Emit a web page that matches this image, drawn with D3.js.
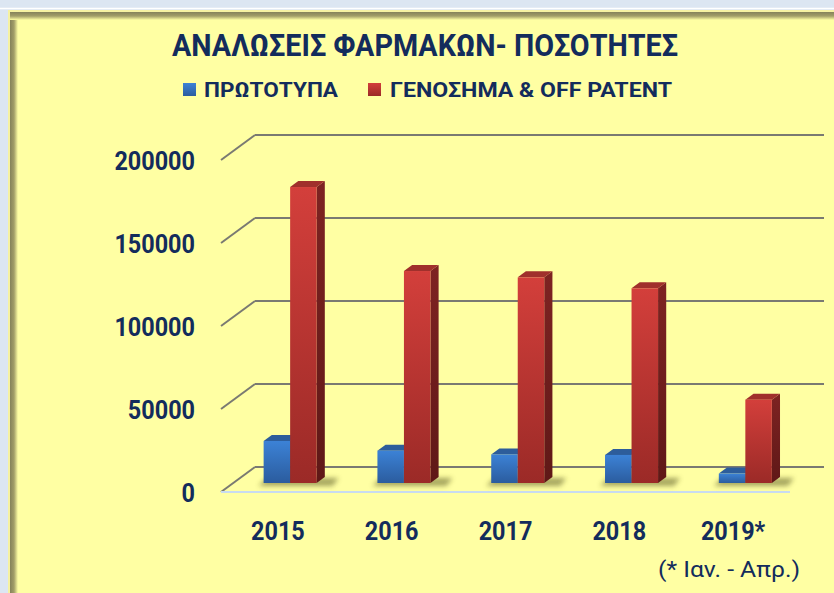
<!DOCTYPE html>
<html lang="el">
<head>
<meta charset="UTF-8">
<title>ΑΝΑΛΩΣΕΙΣ ΦΑΡΜΑΚΩΝ- ΠΟΣΟΤΗΤΕΣ</title>
<style>
  * { box-sizing: border-box; }
  body { margin: 0; background: #dce6f2; overflow: hidden; }
  text { font-family: 'Roboto', 'Noto Sans', sans-serif; }
</style>
</head>
<body>
<div id="chart"></div>
<script src="https://cdn.jsdelivr.net/npm/d3@7/dist/d3.min.js"></script>
<script>
// data
const categories = ["2015", "2016", "2017", "2018", "2019*"];
const originals = [25300, 19500, 17200, 16900, 5700];       // ΠΡΩΤΟΤΥΠΑ
const generics  = [178300, 127700, 123900, 117300, 50200];  // ΓΕΝΟΣΗΜΑ & OFF PATENT
const seriesNames = ["ΠΡΩΤΟΤΥΠΑ", "ΓΕΝΟΣΗΜΑ & OFF PATENT"];
const yTicks = [0, 50000, 100000, 150000, 200000];
const footnote = "(* Ιαν. - Απρ.)";

const W = 834, H = 593;
const navy = '#132c5c';
const depthX = 34, depthY = 25;          // floor depth (oblique)
const barF0 = 0.36, barF1 = 0.60;        // bar front / back depth fraction

const svg = d3.select('#chart').append('svg').attr('width', W).attr('height', H);
const defs = svg.append('defs');

// squeeze a text horizontally, calibri-like
function narrow(sel, f) {
  sel.each(function () {
    const w = this.getComputedTextLength();
    d3.select(this).attr('textLength', w * f).attr('lengthAdjust', 'spacingAndGlyphs');
  });
}

// excel-ish surroundings
svg.append('rect').attr('width', W).attr('height', H).attr('fill', '#dce6f2');
svg.append('line').attr('x1', 0).attr('x2', W).attr('y1', 8.5).attr('y2', 8.5)
    .attr('stroke', '#ffffff').attr('stroke-width', 1.5);
svg.append('rect').attr('x', 8).attr('y', 10).attr('width', W).attr('height', H)
    .attr('fill', '#f6f2a2');
svg.append('rect').attr('x', 10).attr('y', 12).attr('width', W).attr('height', H)
    .attr('fill', '#ffffa3');

const lg = defs.append('linearGradient').attr('id', 'edgeL').attr('x1', 0).attr('x2', 1).attr('y1', 0).attr('y2', 0);
lg.append('stop').attr('offset', 0).attr('stop-color', '#85825a');
lg.append('stop').attr('offset', 0.5).attr('stop-color', '#a29e68');
lg.append('stop').attr('offset', 1).attr('stop-color', '#ffffa3');
const tg = defs.append('linearGradient').attr('id', 'edgeT').attr('x1', 0).attr('x2', 0).attr('y1', 0).attr('y2', 1);
tg.append('stop').attr('offset', 0).attr('stop-color', '#85825a');
tg.append('stop').attr('offset', 0.5).attr('stop-color', '#a29e68');
tg.append('stop').attr('offset', 1).attr('stop-color', '#ffffa3');
svg.append('rect').attr('x', 10).attr('y', 12).attr('width', 8).attr('height', H).attr('fill', 'url(#edgeL)');
svg.append('rect').attr('x', 10).attr('y', 12).attr('width', W).attr('height', 8).attr('fill', 'url(#edgeT)');

// scales (front plane)
const x = d3.scaleBand().domain(categories).range([221, 790]).paddingInner(0.534).paddingOuter(0.267);
const xSub = d3.scaleBand().domain([0, 1]).range([0, x.bandwidth()]);
const y = d3.scaleLinear().domain([0, 200000]).range([492, 160]);

// gridlines: back wall + left wall diagonals
const grid = svg.append('g');
grid.selectAll('line.back').data(yTicks).join('line').attr('class', 'back')
    .attr('x1', 221 + depthX).attr('x2', 790 + depthX)
    .attr('y1', d => y(d) - depthY).attr('y2', d => y(d) - depthY)
    .attr('stroke', '#7a7a72').attr('stroke-width', 2);
grid.selectAll('line.side').data(yTicks).join('line').attr('class', 'side')
    .attr('x1', 221).attr('x2', 221 + depthX)
    .attr('y1', d => y(d)).attr('y2', d => y(d) - depthY)
    .attr('stroke', '#7a7a72').attr('stroke-width', 2);
// floor front edge
svg.append('line').attr('x1', 221).attr('x2', 790).attr('y1', y(0)).attr('y2', y(0))
    .attr('stroke', '#c8dbf0').attr('stroke-width', 2);

// y labels
svg.append('g').selectAll('text').data(yTicks).join('text')
    .attr('x', 195).attr('y', d => y(d) + 9.5)
    .attr('text-anchor', 'end').attr('font-size', 26).attr('font-weight', 700)
    .attr('fill', navy).text(d => d3.format('d')(d))
    .call(narrow, 0.9);

// category labels
svg.append('g').selectAll('text').data(categories).join('text')
    .attr('x', d => x(d) + x.bandwidth() / 2).attr('y', 540)
    .attr('text-anchor', 'middle').attr('font-size', 26).attr('font-weight', 700)
    .attr('fill', navy).text(d => d)
    .call(narrow, 0.9);

// gradients for bar faces
const palettes = [
  { front: ['#3c82d6', '#2b5c9e'], side: ['#24508a', '#1b3d6c'], top: '#2d5d9b' },
  { front: ['#d33f3b', '#9b2a27'], side: ['#7e2322', '#5f1817'], top: '#a0302c' }
];
palettes.forEach((p, i) => {
  const gf = defs.append('linearGradient').attr('id', 'front' + i).attr('x1', 0).attr('x2', 0).attr('y1', 0).attr('y2', 1);
  gf.append('stop').attr('offset', 0).attr('stop-color', p.front[0]);
  gf.append('stop').attr('offset', 1).attr('stop-color', p.front[1]);
  const gs = defs.append('linearGradient').attr('id', 'side' + i).attr('x1', 0).attr('x2', 0).attr('y1', 0).attr('y2', 1);
  gs.append('stop').attr('offset', 0).attr('stop-color', p.side[0]);
  gs.append('stop').attr('offset', 1).attr('stop-color', p.side[1]);
});
defs.append('filter').attr('id', 'blur').attr('x', -0.5).attr('y', -2).attr('width', 2).attr('height', 5)
    .append('feGaussianBlur').attr('stdDeviation', 2.5);

const offX0 = barF0 * depthX, offY0 = barF0 * depthY;
const dX = (barF1 - barF0) * depthX, dY = (barF1 - barF0) * depthY;
const base = y(0) - offY0;

// shadows on the floor
svg.append('g').selectAll('path').data(categories).join('path')
    .attr('d', d => {
      const l = x(d) + offX0, r = l + x.bandwidth();
      return `M${l - 5},${base + 3} L${r + 16},${base + 3} L${r + 22},${base - 5} L${l + 3},${base - 5} Z`;
    })
    .attr('fill', '#4f4f1a').attr('opacity', 0.5).attr('filter', 'url(#blur)');

// bars
const series = [originals, generics];
const bars = [];
categories.forEach((c, ci) => series.forEach((s, si) => bars.push({ c, si, v: s[ci] })));

const barG = svg.append('g').selectAll('g').data(bars).join('g');
barG.each(function (d) {
  const g = d3.select(this);
  const l = x(d.c) + xSub(d.si) + offX0, w = xSub.bandwidth();
  const t = y(d.v) - offY0;
  g.append('path') // side
    .attr('d', `M${l + w},${base} L${l + w + dX},${base - dY} L${l + w + dX},${t - dY} L${l + w},${t} Z`)
    .attr('fill', `url(#side${d.si})`);
  g.append('path') // top
    .attr('d', `M${l},${t} L${l + dX},${t - dY} L${l + w + dX},${t - dY} L${l + w},${t} Z`)
    .attr('fill', palettes[d.si].top);
  g.append('rect') // front
    .attr('x', l).attr('y', t).attr('width', w).attr('height', base - t)
    .attr('fill', `url(#front${d.si})`);
});

// title
svg.append('text').attr('x', 172).attr('y', 56).attr('font-size', 31).attr('font-weight', 700)
    .attr('fill', navy).attr('textLength', 506).attr('lengthAdjust', 'spacingAndGlyphs')
    .text('ΑΝΑΛΩΣΕΙΣ ΦΑΡΜΑΚΩΝ- ΠΟΣΟΤΗΤΕΣ');

// legend
const legend = [
  { sx: 183, tx: 204, len: 134 },
  { sx: 368, tx: 390, len: 282 }
];
legend.forEach((L, i) => {
  svg.append('rect').attr('x', L.sx).attr('y', 83).attr('width', 13).attr('height', 13)
      .attr('fill', `url(#front${i})`);
  svg.append('text').attr('x', L.tx).attr('y', 97).attr('font-size', 20.5).attr('font-weight', 700)
      .attr('fill', navy).attr('textLength', L.len).attr('lengthAdjust', 'spacingAndGlyphs')
      .text(seriesNames[i]);
});

// footnote
svg.append('text').attr('x', 658).attr('y', 577)
    .attr('font-size', 22).attr('fill', navy)
    .attr('textLength', 142).attr('lengthAdjust', 'spacingAndGlyphs')
    .text(footnote);
</script>
</body>
</html>
